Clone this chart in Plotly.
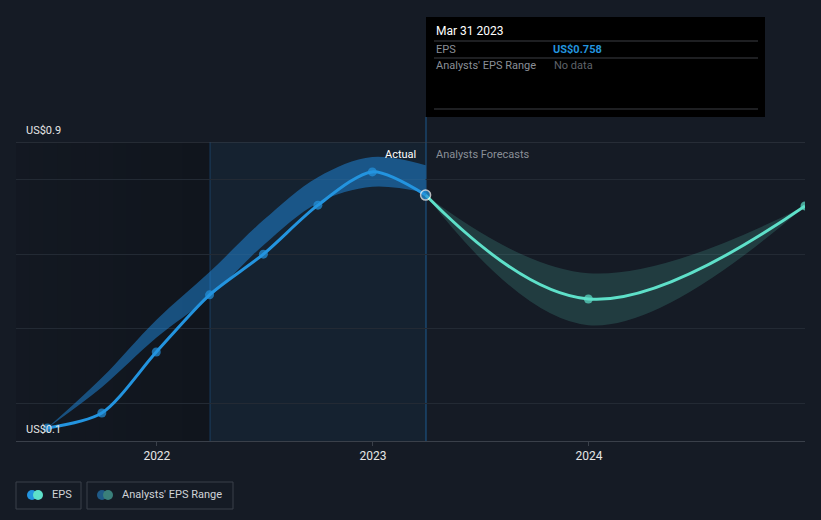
import plotly.graph_objects as go

# ---- data ----
eps_dates = ["2021-06-30", "2021-09-30", "2021-12-31", "2022-03-31",
             "2022-06-30", "2022-09-30", "2022-12-31", "2023-03-31"]
eps_values = [0.135, 0.175, 0.338, 0.491, 0.600, 0.731, 0.820, 0.758]

past_range_high = [0.135, 0.269, 0.424, 0.552, 0.691, 0.806, 0.860, 0.838]
past_range_low = [0.135, 0.244, 0.376, 0.485, 0.624, 0.737, 0.780, 0.764]

fc_dates = ["2023-03-31", "2023-12-31", "2024-12-31"]
fc_values = [0.758, 0.480, 0.729]
fc_high = [0.758, 0.549, 0.729]
fc_low = [0.758, 0.410, 0.729]

x_ticks = ["2022-01-01", "2023-01-01", "2024-01-01"]
x_tick_labels = ["2022", "2023", "2024"]
y_grid = [0.2, 0.4, 0.6, 0.8]
y_labels = [(0.9, "US$0.9"), (0.1, "US$0.1")]

# ---- styling ----
BG = "#151b25"
EPS_C = "#2394df"
FC_C = "#5ee0c9"
FONT = "Roboto"
W, H = 821, 520
L, R, T, B = 16, 16, 142, 79


def px(x):
    return (x - L) / (W - L - R)


def py(y):
    return (H - B - y) / (H - T - B)


fig = go.Figure()

# past range band
fig.add_trace(go.Scatter(x=eps_dates, y=past_range_low, mode="lines",
                         line=dict(width=0, shape="spline", smoothing=1.0),
                         hoverinfo="skip", showlegend=False))
fig.add_trace(go.Scatter(x=eps_dates, y=past_range_high, mode="lines",
                         line=dict(width=0, shape="spline", smoothing=1.0),
                         fill="tonexty", fillcolor="rgba(33,150,243,0.45)",
                         hoverinfo="skip", showlegend=False))
# forecast band
fig.add_trace(go.Scatter(x=fc_dates, y=fc_low, mode="lines",
                         line=dict(width=0, shape="spline", smoothing=1.1),
                         hoverinfo="skip", showlegend=False))
fig.add_trace(go.Scatter(x=fc_dates, y=fc_high, mode="lines",
                         line=dict(width=0, shape="spline", smoothing=1.1),
                         fill="tonexty", fillcolor="rgba(94,224,201,0.17)",
                         hoverinfo="skip", showlegend=False))
# forecast line
fig.add_trace(go.Scatter(x=fc_dates, y=fc_values, mode="lines+markers",
                         line=dict(color=FC_C, width=3, shape="spline", smoothing=1.1),
                         marker=dict(size=[0, 9, 9], color=FC_C, line=dict(width=0)),
                         showlegend=False))
# EPS line
fig.add_trace(go.Scatter(x=eps_dates, y=eps_values, mode="lines+markers",
                         line=dict(color=EPS_C, width=3, shape="spline", smoothing=0.8),
                         marker=dict(size=[9] * 7 + [10], color=EPS_C,
                                     line=dict(color=[EPS_C] * 7 + ["white"],
                                               width=[0] * 7 + [1.5])),
                         showlegend=False))

shapes = []
# darker gradient region on the left
n = 14
x0p, x1p = px(16), px(210)
for i in range(n):
    a = x0p + (x1p - x0p) * i / n
    b = x0p + (x1p - x0p) * (i + 1) / n
    shapes.append(dict(type="rect", xref="paper", yref="paper", x0=a, x1=b, y0=0, y1=1,
                       fillcolor="rgba(0,0,0,%.3f)" % (0.08 + 0.12 * i / (n - 1)),
                       line=dict(width=0), layer="below"))
# highlight region (actual period)
shapes.append(dict(type="rect", xref="paper", yref="paper", x0=px(210), x1=px(426),
                   y0=0, y1=1, fillcolor="rgba(33,150,243,0.06)", line=dict(width=0),
                   layer="below"))
shapes.append(dict(type="line", xref="paper", yref="paper", x0=px(210), x1=px(210),
                   y0=0, y1=1, line=dict(color="rgba(33,120,200,0.35)", width=1),
                   layer="below"))
shapes.append(dict(type="line", xref="paper", yref="paper", x0=px(426), x1=px(426),
                   y0=0, y1=py(117), line=dict(color="rgba(33,130,210,0.6)", width=1),
                   layer="below"))
# top line
shapes.append(dict(type="line", xref="paper", yref="y", x0=0, x1=1, y0=0.9, y1=0.9,
                   line=dict(color="#3a404a", width=1), layer="below"))

# tooltip
shapes.append(dict(type="rect", xref="paper", yref="paper", x0=px(426), x1=px(765),
                   y0=py(117), y1=py(17), fillcolor="#000000", line=dict(width=0)))
for yy in (41, 58, 109):
    shapes.append(dict(type="line", xref="paper", yref="paper", x0=px(434), x1=px(758),
                       y0=py(yy), y1=py(yy), line=dict(color="#3c3f44", width=1)))

# legend boxes
for (a, b) in ((16, 81), (87, 233)):
    shapes.append(dict(type="rect", xref="paper", yref="paper", x0=px(a), x1=px(b),
                       y0=py(509), y1=py(482), line=dict(color="#3a404a", width=1),
                       fillcolor="rgba(0,0,0,0)"))
for (cx, col) in ((32, EPS_C), (38, FC_C), (102, "#1f5a87"), (108, "#3a7f7a")):
    shapes.append(dict(type="circle", xref="paper", yref="paper",
                       x0=px(cx - 5), x1=px(cx + 5), y0=py(500), y1=py(490),
                       fillcolor=col, line=dict(width=0)))

annotations = []
for v, t in y_labels:
    annotations.append(dict(xref="paper", yref="y", x=px(24), y=v, text=t, showarrow=False,
                            xanchor="left", yanchor="bottom", yshift=3,
                            font=dict(family=FONT, size=11, color="#e6e6e6")))
annotations.append(dict(xref="paper", yref="paper", x=px(418), y=py(154), text="Actual",
                        showarrow=False, xanchor="right", yanchor="middle",
                        font=dict(family=FONT, size=11, color="#ffffff")))
annotations.append(dict(xref="paper", yref="paper", x=px(434), y=py(154),
                        text="Analysts Forecasts", showarrow=False, xanchor="left",
                        yanchor="middle", font=dict(family=FONT, size=11, color="#8a8f97")))
# tooltip text
annotations.append(dict(xref="paper", yref="paper", x=px(434), y=py(31), text="Mar 31 2023",
                        showarrow=False, xanchor="left", yanchor="middle",
                        font=dict(family=FONT, size=12, color="#ffffff")))
annotations.append(dict(xref="paper", yref="paper", x=px(434), y=py(49), text="EPS",
                        showarrow=False, xanchor="left", yanchor="middle",
                        font=dict(family=FONT, size=11, color="#8a8f97")))
annotations.append(dict(xref="paper", yref="paper", x=px(551), y=py(49),
                        text="<b>US$0.758</b>", showarrow=False, xanchor="left",
                        yanchor="middle", font=dict(family=FONT, size=11, color=EPS_C)))
annotations.append(dict(xref="paper", yref="paper", x=px(434), y=py(66),
                        text="Analysts' EPS Range", showarrow=False, xanchor="left",
                        yanchor="middle", font=dict(family=FONT, size=11, color="#8a8f97")))
annotations.append(dict(xref="paper", yref="paper", x=px(552), y=py(66), text="No data",
                        showarrow=False, xanchor="left", yanchor="middle",
                        font=dict(family=FONT, size=11, color="#5f636a")))
# legend text
annotations.append(dict(xref="paper", yref="paper", x=px(50), y=py(495), text="EPS",
                        showarrow=False, xanchor="left", yanchor="middle",
                        font=dict(family=FONT, size=11, color="#d0d3d8")))
annotations.append(dict(xref="paper", yref="paper", x=px(120), y=py(495),
                        text="Analysts' EPS Range", showarrow=False, xanchor="left",
                        yanchor="middle", font=dict(family=FONT, size=11, color="#d0d3d8")))

fig.update_layout(
    width=W, height=H,
    margin=dict(l=L, r=R, t=T, b=B),
    paper_bgcolor=BG, plot_bgcolor=BG,
    showlegend=False,
    shapes=shapes, annotations=annotations,
    xaxis=dict(type="date", range=["2021-05-08", "2024-12-31"],
               tickvals=x_ticks, ticktext=x_tick_labels,
               showgrid=False, zeroline=False,
               showline=True, linecolor="#3a404a", linewidth=1,
               ticks="outside", ticklen=4, tickcolor="#3a404a",
               tickfont=dict(family=FONT, size=12, color="#e6e6e6")),
    yaxis=dict(range=[0.1, 0.9], tickvals=y_grid, showticklabels=False,
               showgrid=True, gridcolor="#232a34", gridwidth=1, zeroline=False,
               showline=False, fixedrange=True),
    hovermode=False,
)

fig.write_html("out.html",
               config={"displayModeBar": False, "staticPlot": True},
               post_script="document.body.style.margin='0';"
                           "document.body.style.background='%s';"
                           "document.body.style.overflow='hidden';" % BG)
